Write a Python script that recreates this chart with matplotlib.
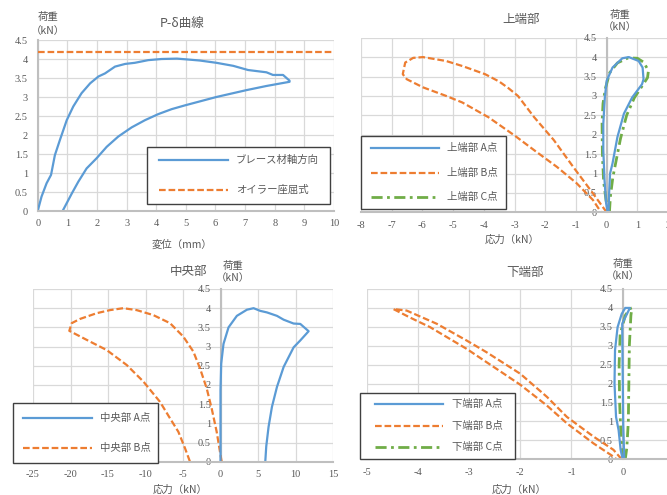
import matplotlib
matplotlib.use("Agg")
import matplotlib.pyplot as plt
from matplotlib.lines import Line2D
from matplotlib.patches import Rectangle
from matplotlib.ticker import FuncFormatter

plt.rcParams['axes.unicode_minus'] = False

W, H = 667, 495
JP = ['Noto Sans CJK JP', 'DejaVu Sans']
TXT = '#595959'
GRID = '#D9D9D9'
BLUE, ORANGE, GREEN = '#5B9BD5', '#ED7D31', '#70AD47'

# ---- data ----
# P-delta curve
pd_disp = [0, 0.13, 0.30, 0.45, 0.58, 0.75, 0.98, 1.2, 1.48, 1.77, 2.05, 2.27, 2.61, 2.95,
           3.28, 3.73, 4.18, 4.7, 5.02, 5.47, 6.03, 6.6, 7.1, 7.72, 7.94, 8.28, 8.5,
           8.5, 7.72, 7.04, 6.03, 4.97, 4.52, 4.07, 3.62, 3.17, 2.72, 2.33, 1.99, 1.65,
           1.37, 1.15, 0.84]
pd_load = [0, 0.38, 0.73, 0.95, 1.47, 1.87, 2.39, 2.75, 3.10, 3.36, 3.54, 3.62, 3.80, 3.87,
           3.90, 3.97, 4.0, 4.01, 3.99, 3.96, 3.90, 3.82, 3.71, 3.65, 3.58, 3.58, 3.43,
           3.40, 3.29, 3.18, 3.0, 2.78, 2.68, 2.55, 2.39, 2.2, 1.96, 1.69, 1.39, 1.12,
           0.77, 0.46, 0]
euler_load = 4.18

# upper end
topA_x = [0.06, 0.08, 0.11, 0.19, 0.35, 0.56, 0.83, 1.15, 1.2, 1.17, 1.04, 0.72, 0.51,
          0.19, 0.0, -0.06, -0.11, -0.11, -0.07, -0.02, 0.03]
topA_y = [0, 0.5, 1.0, 1.26, 1.94, 2.54, 2.96, 3.30, 3.43, 3.73, 3.9, 4.0, 3.97,
          3.73, 3.39, 2.96, 2.28, 1.6, 0.83, 0.24, 0]
topB_x = [0.0, -0.45, -1.09, -1.72, -2.36, -2.89, -3.2, -3.5, -3.96, -4.70, -5.23, -5.98,
          -6.3, -6.56, -6.64, -6.51, -5.98, -5.23, -4.70, -3.85, -3.0, -2.36, -1.62, -0.98,
          -0.45, -0.18]
topB_y = [0, 0.49, 1.17, 1.86, 2.45, 3.0, 3.2, 3.37, 3.56, 3.77, 3.9, 4.0,
          3.98, 3.86, 3.56, 3.43, 3.22, 3.0, 2.83, 2.45, 1.98, 1.6, 1.17, 0.75,
          0.32, 0]
topC_x = [0.09, 0.12, 0.2, 0.3, 0.45, 0.65, 0.9, 1.15, 1.33, 1.36, 1.2, 1.0, 0.7, 0.35,
          0.1, -0.04, -0.12, -0.15, -0.14, -0.1, -0.02, 0.09]
topC_y = [0, 0.4, 0.9, 1.3, 1.9, 2.5, 2.95, 3.25, 3.47, 3.65, 3.87, 3.97, 3.98, 3.85,
          3.6, 3.2, 2.8, 2.3, 1.5, 0.8, 0.3, 0]

# middle
midA_x = [0, 0, 0.09, 0.4, 1.07, 2.18, 3.52, 4.41, 5.3, 6.19, 7.53, 8.42, 9.75, 10.64,
          11.75, 10.64, 9.75, 8.42, 7.53, 6.86, 6.41, 6.1, 5.97]
midA_y = [0, 1.86, 2.55, 3.07, 3.5, 3.8, 3.96, 4.0, 3.93, 3.89, 3.8, 3.7, 3.6, 3.59,
          3.4, 3.16, 2.98, 2.47, 1.95, 1.43, 0.91, 0.4, 0]
midB_x = [0.16, -0.07, -0.51, -1.18, -1.84, -2.73, -3.62, -4.96, -6.73, -8.96, -11.18,
          -12.96, -14.73, -16.5, -18.73, -19.84, -20.16, -17.4, -15.18, -12.51, -10.29,
          -8.07, -6.73, -5.62, -4.73, -4.07]
midB_y = [0, 0.26, 0.78, 1.39, 1.91, 2.43, 2.87, 3.26, 3.61, 3.82, 3.95,
          4.0, 3.95, 3.87, 3.72, 3.61, 3.41, 3.13, 2.91, 2.52, 2.09,
          1.56, 1.13, 0.78, 0.35, 0]

# lower end
botA_x = [0, -0.04, -0.08, -0.13, -0.16, -0.15, -0.10, -0.02, 0.05, 0.14, 0.13, 0.05,
          -0.01, 0.0, 0.01, 0.03]
botA_y = [0, 0.25, 0.77, 1.12, 2.0, 2.88, 3.49, 3.84, 4.0, 4.0, 3.97, 3.75,
          3.58, 2.26, 0.95, 0]
botB_x = [-0.02, -0.18, -0.57, -1.09, -1.48, -2.0, -2.66, -3.05, -3.63, -4.22, -4.48,
          -4.45, -4.16, -3.76, -3.05, -2.0, -1.48, -1.09, -0.57, -0.18, -0.12]
botB_y = [0, 0.25, 0.6, 1.12, 1.65, 2.26, 2.83, 3.14, 3.58, 3.93, 3.97,
          3.95, 3.75, 3.49, 2.92, 1.97, 1.42, 0.95, 0.42, 0.07, 0]
botC_x = [0.02, -0.03, -0.06, -0.07, -0.05, 0.05, 0.14, 0.18, 0.16, 0.13, 0.12, 0.11, 0.08, 0.05]
botC_y = [0, 0.5, 1.5, 2.5, 3.3, 3.8, 3.98, 4.0, 3.8, 3.0, 2.0, 1.0, 0.3, 0]

y_ticks = [0, 0.5, 1, 1.5, 2, 2.5, 3, 3.5, 4, 4.5]

style_A = dict(color=BLUE, lw=1.6, linestyle='-', solid_joinstyle='round')
style_B = dict(color=ORANGE, lw=1.6, linestyle=(0, (3, 1.3)))
style_C = dict(color=GREEN, lw=2.0, linestyle=(0, (4, 1.6, 1, 1.6)))


def fx(px):
    return px / W


def fy(py):
    return 1 - py / H


def make_axes(fig, x0, x1, y0, y1, xlim, xticks):
    # x0..x1 / y0..y1 are the pixel edges of the plot area
    ax = fig.add_axes([fx(x0), fy(y1), (x1 - x0) / W, (y1 - y0) / H])
    ax.set_xlim(*xlim)
    ax.set_ylim(0, 4.5)
    ax.set_xticks(xticks)
    ax.set_yticks(y_ticks)
    ax.grid(True, color=GRID, lw=0.9)
    ax.set_axisbelow(True)
    for s in ('top', 'right'):
        ax.spines[s].set_visible(False)
    ax.spines['left'].set_position(('data', 0))
    for s in ('left', 'bottom'):
        ax.spines[s].set_color('#BFBFBF')
        ax.spines[s].set_linewidth(1.5)
    ax.spines['left'].set_zorder(0.6)
    fmt = FuncFormatter(lambda v, p: f'{v:g}')
    ax.xaxis.set_major_formatter(fmt)
    ax.yaxis.set_major_formatter(fmt)
    ax.tick_params(length=0, colors=TXT, labelsize=7.5, labelfontfamily='Liberation Serif')
    ax.tick_params(axis='y', pad=7)
    ax.tick_params(axis='x', pad=6)
    return ax


def draw_legend(fig, box, handle_x, text_x, rows):
    x0, y0, x1, y1 = box
    fig.add_artist(Rectangle((fx(x0), fy(y1)), (x1 - x0) / W, (y1 - y0) / H,
                             transform=fig.transFigure, facecolor='white',
                             edgecolor='#404040', lw=1.0, zorder=5))
    for yy, label, st in rows:
        fig.add_artist(Line2D([fx(handle_x[0]), fx(handle_x[1])], [fy(yy), fy(yy)],
                              transform=fig.transFigure, zorder=6, **st))
        fig.text(fx(text_x), fy(yy), label, family=JP, fontsize=7.5, color=TXT,
                 va='center', ha='left', zorder=7)


def label(fig, px, py, s, size=7.5, linespacing=1.45):
    fig.text(fx(px), fy(py), s, family=JP, fontsize=size, color=TXT,
             ha='center', va='center', linespacing=linespacing)


fig = plt.figure(figsize=(W / 100, H / 100), dpi=100)

# ---- P-delta ----
ax1 = make_axes(fig, 37.7, 334, 40, 211, (0, 10), range(0, 11))
ax1.axhline(euler_load, **style_B)
ax1.plot(pd_disp, pd_load, **style_A)
label(fig, 182, 23, 'P-δ曲線', 9)
label(fig, 48, 24, '荷重\n（kN）', 7.5)
label(fig, 182, 245, '変位（mm）', 7.5)
draw_legend(fig, (147, 147, 330, 204), (159, 228), 236,
            [(160, 'ブレース材軸方向', style_A), (190, 'オイラー座屈式', style_B)])

# ---- upper end ----
ax2 = make_axes(fig, 361, 668.1, 37.7, 212.3, (-8, 2), range(-8, 3))
ax2.plot(topB_x, topB_y, **style_B)
ax2.plot(topC_x, topC_y, **style_C)
ax2.plot(topA_x, topA_y, **style_A)
label(fig, 521, 19, '上端部', 9)
label(fig, 620, 21, '荷重\n（kN）', 7.5, 1.25)
label(fig, 512, 240, '応力（kN）', 7.5)
draw_legend(fig, (361, 136, 506, 209), (371, 439), 447,
            [(148, '上端部 A点', style_A), (172.5, '上端部 B点', style_B),
             (196.5, '上端部 C点', style_C)])

# ---- middle ----
ax3 = make_axes(fig, 33, 333, 289, 461.7, (-25, 15), range(-25, 16, 5))
ax3.plot(midB_x, midB_y, **style_B)
ax3.plot(midA_x, midA_y, **style_A)
label(fig, 189, 271, '中央部', 9)
label(fig, 233, 272, '荷重\n（kN）', 7.5, 1.3)
label(fig, 180, 490, '応力（kN）', 7.5)
draw_legend(fig, (13, 403, 158, 463), (23, 92), 100,
            [(418, '中央部 A点', style_A), (448, '中央部 B点', style_B)])

# ---- lower end ----
ax4 = make_axes(fig, 366.7, 673.9, 289, 459.3, (-5, 1), range(-5, 1))
ax4.plot(botB_x, botB_y, **style_B)
ax4.plot(botC_x, botC_y, **style_C)
ax4.plot(botA_x, botA_y, **style_A)
label(fig, 525, 272, '下端部', 9)
label(fig, 623, 270, '荷重\n（kN）', 7.5, 1.2)
label(fig, 519, 490, '応力（kN）', 7.5)
draw_legend(fig, (360, 393, 515, 459), (375, 443), 452,
            [(404, '下端部 A点', style_A), (425.5, '下端部 B点', style_B),
             (447, '下端部 C点', style_C)])

fig.savefig('out.png', dpi=100)
